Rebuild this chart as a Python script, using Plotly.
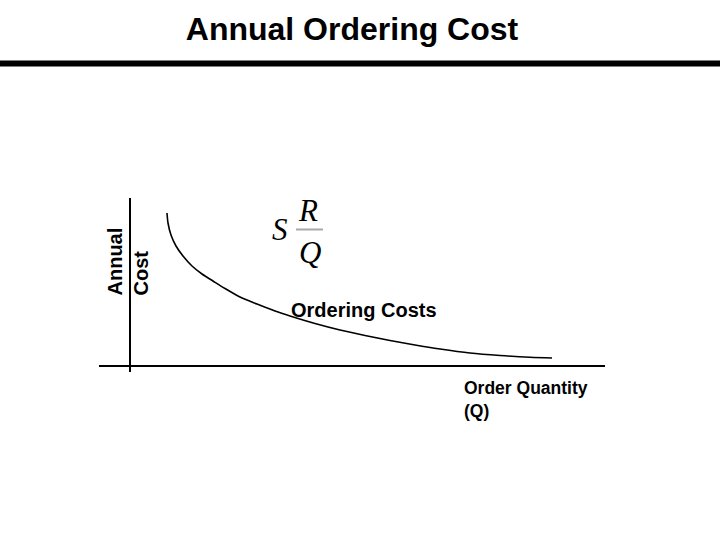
import plotly.graph_objects as go

# Data (order quantity vs annual ordering cost, arbitrary units)
order_quantity = [37, 38, 41, 46, 53, 62, 72, 83, 95, 110, 127, 145, 160, 185, 210,
                  235, 260, 285, 310, 340, 370, 400, 422]
ordering_cost = [153, 143, 131, 120, 110, 100, 92, 85, 77.5, 69, 62, 55, 50, 42.5, 36,
                 30.5, 25.5, 21, 17, 13, 10.5, 8.7, 8]

title_text = "Annual Ordering Cost"
y_label = "Annual<br>Cost"
x_label = "Order Quantity<br>(Q)"
curve_label = "Ordering Costs"

# plot area in pixels: x 99..605, y 198..372
L, R, T, B = 99, 605, 198, 372
W, H = R - L, B - T


def px(x):
    return (x - L) / W


def py(y):
    return (B - y) / H


fig = go.Figure()
fig.add_trace(go.Scatter(
    x=order_quantity, y=ordering_cost, mode="lines",
    line=dict(color="black", width=1.6, shape="spline", smoothing=0.8),
    hoverinfo="skip", showlegend=False,
))

sans = "Liberation Sans, Arial, sans-serif"
serif = "Liberation Serif, Times New Roman, serif"

fig.update_layout(
    width=720, height=540,
    margin=dict(l=L, r=720 - R, t=T, b=540 - B),
    paper_bgcolor="white", plot_bgcolor="white",
    showlegend=False,
    title=dict(text="<b>" + title_text + "</b>", x=0.5, xref="paper", xanchor="center",
               y=1 - 29 / 540, yref="container", yanchor="middle",
               font=dict(family=sans, size=32, color="black")),
    xaxis=dict(range=[-31, 475], showgrid=False, showticklabels=False, ticks="",
               zeroline=True, zerolinecolor="black", zerolinewidth=1.5, showline=False,
               fixedrange=True),
    yaxis=dict(range=[-6, 168], showgrid=False, showticklabels=False, ticks="",
               zeroline=True, zerolinecolor="black", zerolinewidth=1.5, showline=False,
               fixedrange=True),
)

# thick rule under the title
fig.add_shape(type="line", xref="paper", yref="paper",
              x0=px(0), x1=px(720), y0=py(63.5), y1=py(63.5),
              line=dict(color="black", width=6))
# fraction bar of the formula
fig.add_shape(type="line", xref="paper", yref="paper",
              x0=px(296), x1=px(323), y0=py(229.5), y1=py(229.5),
              line=dict(color="#a8a8a8", width=2))

ann = []
ann.append(dict(text="<b>" + y_label + "</b>", x=px(127), y=py(261.5), textangle=-90,
                align="left", xanchor="center", yanchor="middle",
                font=dict(family=sans, size=20, color="black")))
ann.append(dict(text="<i>S</i>", x=px(279.5), y=py(229), xanchor="center", yanchor="middle",
                font=dict(family=serif, size=31, color="black")))
ann.append(dict(text="<i>R</i>", x=px(307.5), y=py(210), xanchor="center", yanchor="middle",
                font=dict(family=serif, size=31, color="black")))
ann.append(dict(text="<i>Q</i>", x=px(309.5), y=py(252), xanchor="center", yanchor="middle",
                font=dict(family=serif, size=31, color="black")))
ann.append(dict(text="<b>" + curve_label + "</b>", x=px(289), y=py(310), xanchor="left",
                yanchor="middle", font=dict(family=sans, size=20, color="black")))
ann.append(dict(text="<b>" + x_label + "</b>", x=px(462), y=py(376), xanchor="left",
                yanchor="top", align="left", font=dict(family=sans, size=17.5, color="black")))
for a in ann:
    a.update(xref="paper", yref="paper", showarrow=False)
fig.update_layout(annotations=ann)

fig.write_html("out.html", config={"displayModeBar": False},
               post_script="document.body.style.margin='0';")
